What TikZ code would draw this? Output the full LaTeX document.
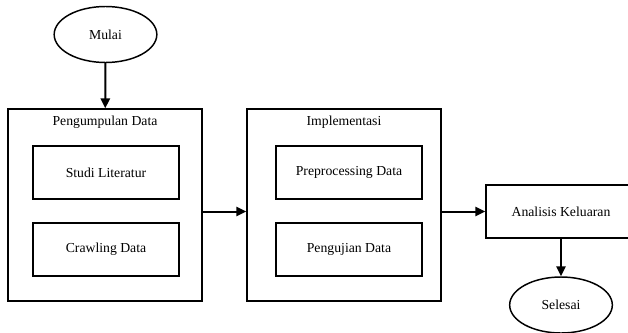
\documentclass[tikz,border=0pt]{standalone}
\usepackage{fontspec}
\setmainfont{Liberation Serif}
\usetikzlibrary{shapes.geometric,arrows.meta}

\begin{document}
\begin{tikzpicture}[x=0.75pt,y=-0.75pt,
  font=\fontsize{10.3}{12}\selectfont,
  terminal/.style={draw,ellipse,line width=1.1pt,inner sep=0pt,minimum width=77pt,minimum height=42pt},
  outerbox/.style={draw,rectangle,line width=1.1pt,minimum width=145.5pt,minimum height=144pt},
  innerbox/.style={draw,rectangle,line width=1.1pt,minimum width=109.5pt,minimum height=39.75pt},
  arrow/.style={-{Triangle[length=7.5pt,width=7pt]},line width=1.5pt}]
\useasboundingbox (0,0) rectangle (628,332);
% start / end
\node[terminal] (mulai) at (105.5,34.5) {Mulai};
\node[terminal] (selesai) at (561,305) {Selesai};
% group boxes
\node[outerbox] (kumpul) at (105,205) {};
\node at (105,122) (judulkumpul) {Pengumpulan Data};
\node[innerbox] (studi) at (106,172.5) {Studi Literatur};
\node[innerbox] (crawl) at (106,249.5) {Crawling Data};
\node[outerbox] (impl) at (344,205) {};
\node at (344,122) (judulimpl) {Implementasi};
\node[innerbox] (prep) at (349,172.5) {Preprocessing Data};
\node[innerbox] (uji) at (349,249.5) {Pengujian Data};
\node[innerbox,minimum width=112.5pt] (analisis) at (561,211.5) {Analisis Keluaran};
% arrows
\draw[arrow] (mulai) -- (kumpul);
\draw[arrow] (kumpul.east |- analisis.west) -- (impl.west |- analisis.west);
\draw[arrow] (impl.east |- analisis.west) -- (analisis.west);
\draw[arrow] (analisis) -- (selesai);
\end{tikzpicture}
\end{document}
